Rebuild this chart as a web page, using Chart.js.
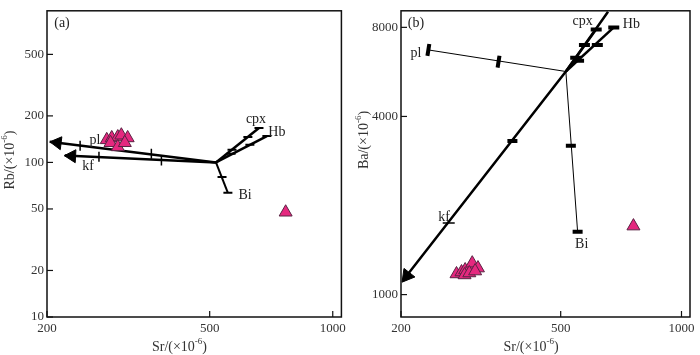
<!DOCTYPE html>
<html>
<head>
<meta charset="utf-8">
<script src="https://cdn.jsdelivr.net/npm/chart.js@4"></script>
<style>
body { margin: 0; background: #fff; }
.wrap { position: relative; width: 700px; height: 355px; }
.panel { position: absolute; top: 0; width: 350px; height: 355px; }
</style>
</head>
<body>
<div class="wrap">
  <div class="panel" style="left:0"><canvas id="chartA"></canvas></div>
  <div class="panel" style="left:350px"><canvas id="chartB"></canvas></div>
</div>
<script>
// ---- data: [Sr, Rb] / [Sr, Ba] in ×10^-6 ----
const srTicks = [200, 500, 1000];
const rbTicks = [10, 20, 50, 100, 200, 500];
const baTicks = [1000, 4000, 8000];

// (a) Rb-Sr vectors
const aPl = [[518, 100], [203, 136]];
const aPlTicks = [[241, 128], [360, 114]];
const aKf = [[518, 100], [221, 111]];
const aKfTicks = [[268, 109], [381, 103]];
const aCpx = [[518, 100], [660, 167]];
const aCpxTicks = [[567, 121], [620, 146], [660, 167]];
const aHb = [[518, 100], [690, 148]];
const aHbTicks = [[564, 114], [627, 130], [690, 148]];
const aBi = [[518, 100], [554, 63.6]];
const aBiTicks = [[536, 80.4], [554, 63.6]];
const aArrowPl = [[212, 134]];
const aArrowKf = [[230, 110]];
const aSamples = [[280, 140], [288, 144], [298, 146], [304, 150], [315, 144],
                  [286, 134], [298, 126], [310, 134], [767, 47.6]];
const aLabels = [['pl', 262, 140], ['kf', 252, 94], ['cpx', 649, 190], ['Hb', 730, 157], ['Bi', 610, 61]];

// (b) Ba-Sr vectors
const bPl = [[515, 5675], [234, 6711]];
const bPlTicks = [[350, 6127], [234, 6711]];
const bKf = [[656, 9030], [515, 5675], [202, 1113]];
const bKfTicks = [[379, 3306]];
const bKfThin = [[263, 1745]];
const bCpx = [[515, 5675], [613, 7875]];
const bCpxTicks = [[545, 6313], [573, 6971], [613, 7875]];
const bHb = [[515, 5675], [678, 7994]];
const bHbTicks = [[554, 6171], [617, 6971], [678, 7994]];
const bBi = [[515, 5675], [551, 1630]];
const bBiTicks = [[530, 3183], [551, 1630]];
const bArrow = [[207, 1157]];
const bSamples = [[275, 1174], [283, 1192], [289, 1211], [298, 1238], [301, 1277],
                  [311, 1229], [288, 1165], [296, 1183], [306, 1201], [759, 1704]];
const bLabels = [['pl', 218, 6559], ['cpx', 567, 8368], ['Hb', 750, 8179], ['Bi', 564, 1475], ['kf', 256, 1826]];

const SERIF = '"Liberation Serif", "DejaVu Serif", serif';

function pts(arr) {
    return arr.map(([x, y]) => ({ x, y }));
}

function lineSet(arr, width) {
    return { data: pts(arr), showLine: true, borderColor: '#000', borderWidth: width,
             pointRadius: 0, pointHoverRadius: 0, fill: false };
}

function markSet(arr, rot, radius, width) {
    return { data: pts(arr), showLine: false, pointStyle: 'line', pointRotation: rot,
             pointRadius: radius, pointHoverRadius: radius, pointBorderWidth: width,
             borderColor: '#000', pointBorderColor: '#000' };
}

function arrowSet(arr, rot, radius) {
    return { data: pts(arr), showLine: false, pointStyle: 'triangle', pointRotation: rot,
             pointRadius: radius, pointHoverRadius: radius, pointBorderWidth: 1,
             pointBorderColor: '#000', pointBackgroundColor: '#000' };
}

function sampleSet(arr) {
    return { data: pts(arr), showLine: false, pointStyle: 'triangle', pointRadius: 7.5,
             pointHoverRadius: 7.5, pointBorderWidth: 1, pointBorderColor: '#5a2444',
             pointBackgroundColor: '#e5287f' };
}

// "Sr/(×10" + superscript "-6" + ")"
function drawUnitText(ctx, head, cx, cy) {
    const big = '14px ' + SERIF, small = '9px ' + SERIF;
    ctx.font = big;
    const w1 = ctx.measureText(head + '/(×10').width;
    const w3 = ctx.measureText(')').width;
    ctx.font = small;
    const w2 = ctx.measureText('-6').width;
    let x = cx - (w1 + w2 + w3) / 2;
    ctx.textAlign = 'left';
    ctx.font = big;
    ctx.fillText(head + '/(×10', x, cy);
    x += w1;
    ctx.font = small;
    ctx.fillText('-6', x, cy - 5);
    x += w2;
    ctx.font = big;
    ctx.fillText(')', x, cy);
}

const panelDecor = {
    id: 'panelDecor',
    afterDatasetsDraw(chart, args, opts) {
        const { ctx, chartArea: ca, scales: { x, y } } = chart;
        ctx.save();
        // box
        ctx.strokeStyle = '#111';
        ctx.lineWidth = 1.5;
        ctx.strokeRect(ca.left, ca.top, ca.right - ca.left, ca.bottom - ca.top);
        // inward ticks
        ctx.lineWidth = 1.2;
        x.ticks.forEach(t => {
            const px = x.getPixelForValue(t.value);
            ctx.beginPath(); ctx.moveTo(px, ca.bottom); ctx.lineTo(px, ca.bottom - 6); ctx.stroke();
        });
        y.ticks.forEach(t => {
            const py = y.getPixelForValue(t.value);
            ctx.beginPath(); ctx.moveTo(ca.left, py); ctx.lineTo(ca.left + 6, py); ctx.stroke();
        });
        // mineral labels
        ctx.fillStyle = '#222';
        ctx.font = '14px ' + SERIF;
        ctx.textAlign = 'center';
        ctx.textBaseline = 'middle';
        opts.labels.forEach(([text, sx, val]) => {
            ctx.fillText(text, x.getPixelForValue(sx), y.getPixelForValue(val));
        });
        // panel tag
        ctx.font = '14px ' + SERIF;
        ctx.fillText(opts.tag, ca.left + 15, ca.top + 13);
        // axis titles
        ctx.fillStyle = '#333';
        drawUnitText(ctx, 'Sr', ca.left + 0.45 * (ca.right - ca.left), 347);
        ctx.translate(ca.left - 37, opts.yTitleY);
        ctx.rotate(-Math.PI / 2);
        drawUnitText(ctx, opts.yTitle, 0, 0);
        ctx.restore();
    }
};

function makeChart(id, datasets, yTicks, yMin, yMax, yWidth, padRight, decor) {
    return new Chart(document.getElementById(id), {
        type: 'scatter',
        data: { datasets: datasets },
        options: {
            responsive: true,
            maintainAspectRatio: false,
            animation: false,
            layout: { padding: { top: 4, right: padRight, left: 0, bottom: 0 } },
            plugins: {
                legend: { display: false },
                tooltip: { enabled: false },
                panelDecor: decor
            },
            scales: {
                x: {
                    type: 'logarithmic',
                    min: 200,
                    max: 1050,
                    grid: { display: false, drawTicks: false },
                    border: { display: false },
                    afterBuildTicks: s => { s.ticks = srTicks.map(v => ({ value: v })); },
                    afterFit: s => { s.height = 38; },
                    ticks: { padding: 4, color: '#333', maxRotation: 0, autoSkip: false,
                             font: { family: SERIF, size: 13 }, callback: v => String(v) }
                },
                y: {
                    type: 'logarithmic',
                    min: yMin,
                    max: yMax,
                    grid: { display: false, drawTicks: false },
                    border: { display: false },
                    afterBuildTicks: s => { s.ticks = yTicks.map(v => ({ value: v })); },
                    afterFit: s => { s.width = yWidth; },
                    ticks: { padding: 3, color: '#333', autoSkip: false,
                             font: { family: SERIF, size: 13 }, callback: v => String(v) }
                }
            }
        },
        plugins: [panelDecor]
    });
}

// (a)
makeChart('chartA', [
    sampleSet(aSamples),
    arrowSet(aArrowPl, 277, 7.5),
    arrowSet(aArrowKf, 273, 7.5),
    markSet(aPlTicks, 90, 5, 1.5),
    markSet(aKfTicks, 90, 5, 1.5),
    markSet(aCpxTicks, 0, 4.5, 2),
    markSet(aHbTicks, 0, 4.5, 2),
    markSet(aBiTicks, 0, 4.5, 2),
    lineSet(aPl, 2.5),
    lineSet(aKf, 2.5),
    lineSet(aCpx, 2.5),
    lineSet(aHb, 2.5),
    lineSet(aBi, 2)
], rbTicks, 10, 957, 47, 7, { labels: aLabels, tag: '(a)', yTitle: 'Rb', yTitleY: 160 });

// (b)
makeChart('chartB', [
    sampleSet(bSamples),
    arrowSet(bArrow, 218, 8),
    markSet(bPlTicks, 99, 6, 4),
    markSet(bKfTicks, 0, 5, 4),
    markSet(bKfThin, 0, 6, 1.5),
    markSet(bCpxTicks, 0, 5.5, 4),
    markSet(bHbTicks, 0, 5.5, 4),
    markSet(bBiTicks, 0, 5, 4),
    lineSet(bKf, 2.5),
    lineSet(bCpx, 2.5),
    lineSet(bHb, 2.5),
    lineSet(bPl, 1),
    lineSet(bBi, 1)
], baTicks, 840, 9100, 51, 3, { labels: bLabels, tag: '(b)', yTitle: 'Ba', yTitleY: 140 });
</script>
</body>
</html>
